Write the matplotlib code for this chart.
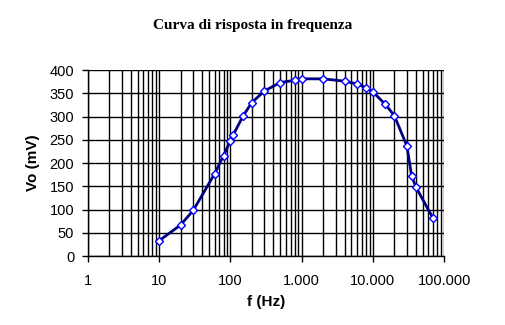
import matplotlib.pyplot as plt
from matplotlib.ticker import LogLocator, FuncFormatter, MultipleLocator, NullFormatter

# frequency response data
freq = [10, 20, 30, 60, 80, 100, 110, 150, 200, 300, 500, 800, 1000, 2000,
        4000, 6000, 8000, 10000, 15000, 20000, 30000, 35000, 40000, 70000]
vo = [33, 67, 98, 177, 216, 248, 261, 301, 330, 355, 373, 378, 381, 381,
      376, 370, 362, 353, 326, 302, 237, 173, 149, 81]

title = 'Curva di risposta in frequenza'
xlabel = 'f (Hz)'
ylabel = 'Vo (mV)'

fig = plt.figure(figsize=(5.06, 3.25), dpi=100)
ax = fig.add_axes([0.174, 0.2123, 0.7036, 0.5723])

ax.plot(freq, vo, color='#000080', lw=2, marker='D', ms=4.5,
        mfc='white', mec='#0000FF', mew=1, zorder=3)

ax.set_xscale('log')
ax.set_xlim(1, 100000)
ax.set_ylim(0, 400)
ax.yaxis.set_major_locator(MultipleLocator(50))
ax.xaxis.set_major_locator(LogLocator(base=10, numticks=10))
ax.xaxis.set_minor_locator(LogLocator(base=10, subs=range(2, 10), numticks=10))
ax.xaxis.set_minor_formatter(NullFormatter())
ax.xaxis.set_major_formatter(FuncFormatter(lambda v, p: f'{int(round(v)):,}'.replace(',', '.')))

ax.grid(True, which='both', axis='x', color='black', lw=1)
ax.grid(True, which='major', axis='y', color='black', lw=1)
ax.get_ygridlines()[-1].set_visible(False)

for s in ['top', 'right']:
    ax.spines[s].set_visible(False)
for s in ['left', 'bottom']:
    ax.spines[s].set_linewidth(1)

ax.tick_params(axis='both', which='major', direction='out', length=4, width=1,
               labelsize=10.5, colors='black')
ax.tick_params(axis='x', which='major', pad=9)
ax.tick_params(axis='y', which='major', pad=6)
ax.tick_params(axis='x', which='minor', length=0)
for lab in ax.get_xticklabels() + ax.get_yticklabels():
    lab.set_fontfamily('Liberation Sans')

ax.set_xlabel(xlabel, fontsize=11, fontweight='bold', family='Liberation Sans', labelpad=5)
ax.set_ylabel(ylabel, fontsize=11, fontweight='bold', family='Liberation Sans', labelpad=7)
fig.text(0.5, 0.92, title, ha='center', va='center', fontsize=11,
         fontweight='bold', family='Liberation Serif')

fig.savefig('out.png', dpi=100)
